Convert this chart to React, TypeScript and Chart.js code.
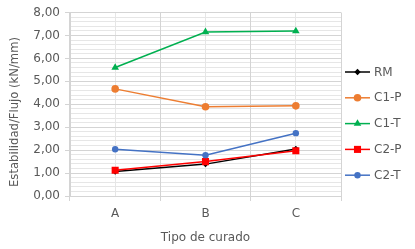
import { useEffect, useRef } from 'react';
import { Chart, registerables } from 'chart.js';

Chart.register(...registerables);

const categories = ['A', 'B', 'C'];
const seriesNames = ['RM', 'C1-P', 'C1-T', 'C2-P', 'C2-T'];
const rmValues = [1.07, 1.39, 2.05];
const c1pValues = [4.67, 3.89, 3.93];
const c1tValues = [5.6, 7.15, 7.19];
const c2pValues = [1.12, 1.5, 1.97];
const c2tValues = [2.04, 1.78, 2.74];
const yAxisTitle = 'Estabilidad/Flujo (kN/mm)';
const xAxisTitle = 'Tipo de curado';
const yMin = 0;
const yMax = 8;
const yMinorStep = 0.2;

const FONT = 'DejaVu Sans';
const TEXT = '#595959';
const MAJOR = '#D4D4D4';
const MINOR = '#E6E6E6';

const styles = [
  { color: '#000000', shape: 'rectRot', r: 3.2 },
  { color: '#ED7D31', shape: 'circle', r: 3.8 },
  { color: '#00B050', shape: 'triangle', r: 4.4 },
  { color: '#FF0000', shape: 'rect', r: 5 },
  { color: '#4472C4', shape: 'circle', r: 3.2 },
];

function drawMarker(ctx: CanvasRenderingContext2D, shape: string, x: number, y: number, r: number) {
  ctx.beginPath();
  if (shape === 'circle') {
    ctx.arc(x, y, r, 0, Math.PI * 2);
  } else if (shape === 'rect') {
    const s = Math.SQRT1_2 * r;
    ctx.rect(x - s, y - s, 2 * s, 2 * s);
  } else if (shape === 'rectRot') {
    ctx.moveTo(x - r, y);
    ctx.lineTo(x, y - r);
    ctx.lineTo(x + r, y);
    ctx.lineTo(x, y + r);
    ctx.closePath();
  } else if (shape === 'triangle') {
    let a = 0;
    ctx.moveTo(x + Math.sin(a) * r, y - Math.cos(a) * r);
    a += (2 * Math.PI) / 3;
    ctx.lineTo(x + Math.sin(a) * r, y - Math.cos(a) * r);
    a += (2 * Math.PI) / 3;
    ctx.lineTo(x + Math.sin(a) * r, y - Math.cos(a) * r);
    ctx.closePath();
  }
  ctx.fill();
}

const extrasPlugin = {
  id: 'extras',
  afterDraw(chart: any) {
    const ctx: CanvasRenderingContext2D = chart.ctx;
    const area = chart.chartArea;
    ctx.save();
    ctx.fillStyle = TEXT;
    ctx.font = `11.6px "${FONT}"`;
    ctx.textAlign = 'center';
    ctx.textBaseline = 'alphabetic';
    ctx.save();
    ctx.translate(17.7, 112);
    ctx.rotate(-Math.PI / 2);
    ctx.fillText(yAxisTitle, 0, 0);
    ctx.restore();
    ctx.font = `12px "${FONT}"`;
    ctx.fillText(xAxisTitle, (area.left + area.right) / 2, 240.8);

    // legend
    const lx0 = area.right + 4;
    const lx1 = lx0 + 25;
    const top = 72;
    const step = 25.8;
    chart.data.datasets.forEach((ds: any, i: number) => {
      const st = styles[i];
      const y = top + i * step;
      ctx.strokeStyle = st.color;
      ctx.lineWidth = 1.5;
      ctx.beginPath();
      ctx.moveTo(lx0, y);
      ctx.lineTo(lx1, y);
      ctx.stroke();
      ctx.fillStyle = st.color;
      drawMarker(ctx, st.shape, (lx0 + lx1) / 2, y, st.r);
      ctx.fillStyle = TEXT;
      ctx.font = `12px "${FONT}"`;
      ctx.textAlign = 'left';
      ctx.textBaseline = 'middle';
      ctx.fillText(ds.label, lx1 + 4, y + 0.5);
    });
    ctx.restore();
  },
};

const isMajor = (v: number) => Math.abs(v - Math.round(v)) < 1e-6;

export default function App() {
  const ref = useRef<HTMLCanvasElement | null>(null);
  useEffect(() => {
    if (!ref.current) return;
    const values = [rmValues, c1pValues, c1tValues, c2pValues, c2tValues];
    const chart = new Chart(ref.current, {
      type: 'line',
      data: {
        labels: categories,
        datasets: seriesNames.map((name, i) => ({
          label: name,
          data: values[i],
          borderColor: styles[i].color,
          backgroundColor: styles[i].color,
          pointBackgroundColor: styles[i].color,
          pointBorderColor: styles[i].color,
          pointBorderWidth: 0,
          pointStyle: styles[i].shape as any,
          pointRadius: styles[i].r,
          borderWidth: 1.5,
          tension: 0,
          fill: false,
          order: seriesNames.length - i,
        })),
      },
      options: {
        animation: false,
        responsive: false,
        maintainAspectRatio: false,
        layout: { padding: { left: 0, right: 74, top: 12.5, bottom: 0 } },
        plugins: {
          legend: { display: false },
          tooltip: { enabled: false },
          title: { display: false },
        },
        scales: {
          x2: {
            type: 'category',
            position: 'top',
            offset: true,
            grid: { offset: false, color: MINOR, lineWidth: 1, drawTicks: false },
            border: { display: false },
            ticks: { display: false },
            afterFit: (scale: any) => {
              scale.height = 0;
            },
          },
          y: {
            min: yMin,
            max: yMax,
            grid: {
              color: (c: any) => (isMajor(c.tick.value) ? MAJOR : MINOR),
              tickColor: (c: any) => (isMajor(c.tick.value) ? MAJOR : 'rgba(0,0,0,0)'),
              tickLength: 5,
            },
            border: { color: MAJOR },
            ticks: {
              stepSize: yMinorStep,
              maxTicksLimit: 100,
              autoSkip: false,
              color: TEXT,
              padding: 5,
              font: { family: FONT, size: 12 },
              callback: (v: any) => (isMajor(Number(v)) ? Number(v).toFixed(2).replace('.', ',') : ''),
            },
            afterFit: (scale: any) => {
              scale.width = 70;
            },
          },
          x: {
            type: 'category',
            offset: true,
            grid: {
              offset: true,
              color: MAJOR,
              lineWidth: 1,
              tickLength: 5,
              drawTicks: true,
            },
            border: { color: MAJOR },
            ticks: {
              color: TEXT,
              font: { family: FONT, size: 12 },
              padding: 6,
              maxRotation: 0,
            },
            afterFit: (scale: any) => {
              scale.height = 53;
            },
          },
        },
      },
      plugins: [extrasPlugin],
    });
    return () => chart.destroy();
  }, []);
  return (
    <div style={{ position: 'fixed', left: 0, top: 0, width: 415, height: 249, background: '#fff' }}>
      <canvas ref={ref} width={415} height={249} style={{ width: 415, height: 249, display: 'block' }} />
    </div>
  );
}
